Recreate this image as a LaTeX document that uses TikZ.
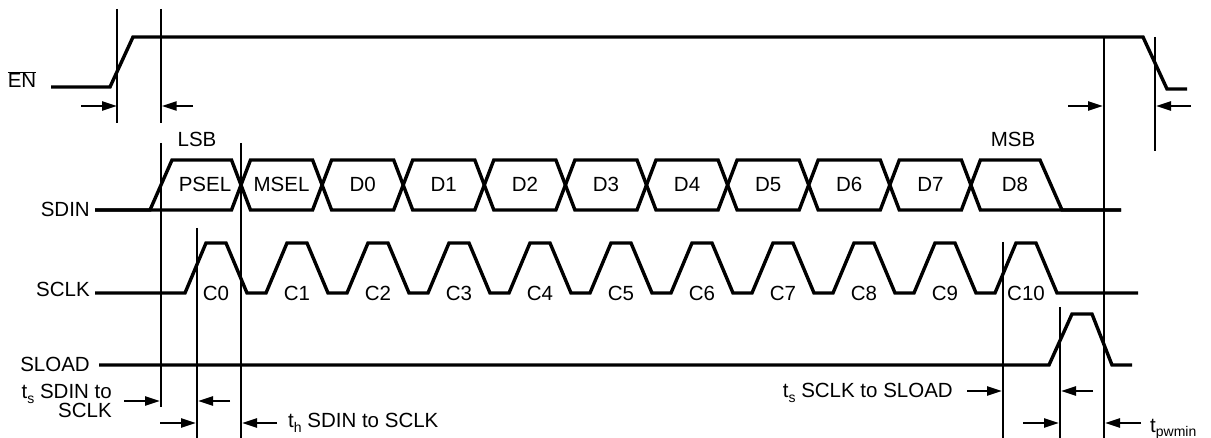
\documentclass[tikz,border=0pt]{standalone}
\usepackage{fontspec}
\setmainfont{Liberation Sans}
\usetikzlibrary{arrows.meta}
\newcommand{\mysub}[1]{\raisebox{-4.5pt}[0pt][0pt]{\fontsize{14}{14}\selectfont #1}}
\begin{document}
\begin{tikzpicture}[x=1pt,y=-1pt,
  wave/.style={line width=3.4pt},
  vline/.style={line width=2pt},
  dimarrow/.style={line width=2.4pt,-{Triangle[length=15pt,width=9pt]}},
  lbl/.style={inner sep=0pt,font=\fontsize{20.5}{24}\selectfont}]
\useasboundingbox (0,0) rectangle (1211,438);
% EN
\draw[wave] (51,87)--(110,87)--(133,37)--(1143,37)--(1167,89)--(1187,89);
\node[lbl,anchor=base] (en) at (22,88) {$\overline{\mbox{EN}}$};
% vertical lines
\draw[vline] (117,9)--(117,123);
\draw[vline] (160.7,9)--(160.7,123);
\draw[vline] (160.7,143)--(160.7,407);
\draw[vline] (197,228)--(197,438);
\draw[vline] (241,143)--(241,438);
\draw[vline] (1003,242)--(1003,438);
\draw[vline] (1060,307)--(1060,438);
\draw[vline] (1104,37)--(1104,438);
\draw[vline] (1155,37)--(1155,151);
% top arrows
\draw[dimarrow] (81,106)--(117,106);
\draw[dimarrow] (193,106)--(161.7,106);
\draw[dimarrow] (1068,106)--(1103,106);
\draw[dimarrow] (1191,106)--(1156,106);
\node[lbl,anchor=base] (lsb) at (197,147) {LSB};
\node[lbl,anchor=base] (msb) at (1013,147) {MSB};
% SDIN
\def\cw{9.5}
\draw[wave] (95,210)--(150,210)--(172,160)
  \foreach \k in {0,...,9}{
    \ifodd\k
      -- ({241+81.1*\k-\cw},210) -- ({241+81.1*\k+\cw},160)
    \else
      -- ({241+81.1*\k-\cw},160) -- ({241+81.1*\k+\cw},210)
    \fi
  } -- (1040,160) -- (1062,210) -- (1121,210);
\draw[wave] (95,210)
  \foreach \k in {0,...,9}{
    \ifodd\k
      -- ({241+81.1*\k-\cw},160) -- ({241+81.1*\k+\cw},210)
    \else
      -- ({241+81.1*\k-\cw},210) -- ({241+81.1*\k+\cw},160)
    \fi
  } -- (1121,210);
\node[lbl,anchor=base east] (sdin) at (90,217) {SDIN};
\node[lbl,anchor=base] (psel) at (205,192) {PSEL};
\foreach \t [count=\i from 0] in {MSEL,D0,D1,D2,D3,D4,D5,D6,D7}{
  \node[lbl,anchor=base] (cell\i) at ({241+81.1*\i+40.55},192) {\t};
}
\node[lbl,anchor=base] (d8) at (1015,192) {D8};
% SCLK
\draw[wave] (95,293)--(185,293)
  \foreach \k in {0,...,9}{
    -- ({185+81*\k+21},243) -- ({185+81*\k+41},243) -- ({185+81*\k+62},293) -- ({185+81*\k+81},293)
  } -- (1016,243) -- (1036,243) -- (1057,293) -- (1138,293);
\node[lbl,anchor=base east] (sclk) at (90,297) {SCLK};
\foreach \k in {0,...,10}{
  \node[lbl,anchor=base] (c\k) at ({185+81*\k+31},301) {C\k};
}
% SLOAD
\draw[wave] (99,365)--(1049,365)--(1072,314)--(1092,314)--(1112,365)--(1132,365);
\node[lbl,anchor=base east] (sload) at (90,372) {SLOAD};
% bottom arrows
\draw[dimarrow] (124,401)--(160,401);
\draw[dimarrow] (230,401)--(198,401);
\draw[dimarrow] (160,423)--(196,423);
\draw[dimarrow] (277,423)--(242,423);
\draw[dimarrow] (967,391)--(1002,391);
\draw[dimarrow] (1093,391)--(1061,391);
\draw[dimarrow] (1023,423)--(1059,423);
\draw[dimarrow] (1141,423)--(1105,423);
% bottom labels
\node[lbl,anchor=base east] (tsd1) at (112,399) {t\mysub{s} SDIN to};
\node[lbl,anchor=base east] (tsd2) at (112,417.5) {SCLK};
\node[lbl,anchor=base west] (th) at (288,428) {t\mysub{h} SDIN to SCLK};
\node[lbl,anchor=base east] (tss) at (953,398) {t\mysub{s} SCLK to SLOAD};
\node[lbl,anchor=base west] (tpw) at (1150,432) {t\mysub{pwmin}};
\end{tikzpicture}
\end{document}
